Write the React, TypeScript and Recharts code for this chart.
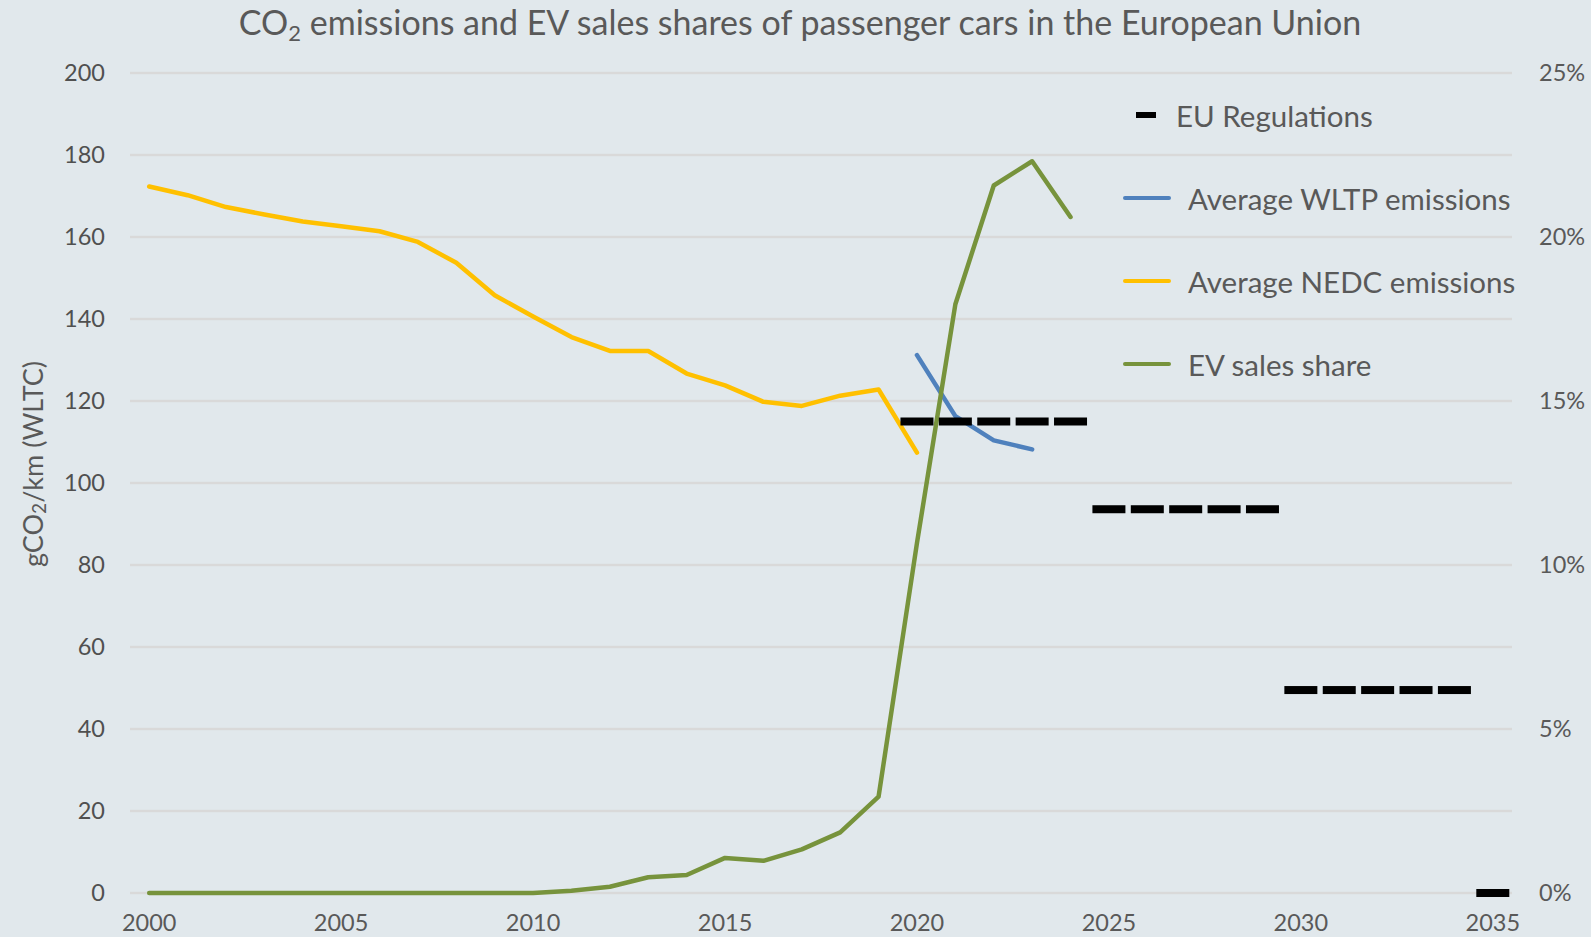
import React from 'react';
import {
  ComposedChart,
  Line,
  Scatter,
  XAxis,
  YAxis,
  CartesianGrid,
  Label,
} from 'recharts';

const years = [
  2000, 2001, 2002, 2003, 2004, 2005, 2006, 2007, 2008, 2009, 2010, 2011,
  2012, 2013, 2014, 2015, 2016, 2017, 2018, 2019, 2020, 2021, 2022, 2023,
  2024, 2025, 2026, 2027, 2028, 2029, 2030, 2031, 2032, 2033, 2034, 2035,
];

// Average NEDC emissions, 2000-2020 (gCO2/km)
const nedcValues = [
  172.3, 170.2, 167.3, 165.5, 163.8, 162.6, 161.4, 158.8, 153.7, 145.8, 140.6,
  135.6, 132.2, 132.2, 126.7, 123.8, 119.8, 118.8, 121.3, 122.8, 107.4,
];

// Average WLTP emissions, 2020-2023 (gCO2/km)
const wltpYears = [2020, 2021, 2022, 2023];
const wltpValues = [131.2, 116.3, 110.4, 108.2];

// EV sales share, 2000-2024 (%)
const evValues = [
  0, 0, 0, 0, 0, 0, 0, 0, 0, 0, 0, 0.07, 0.19, 0.48, 0.55, 1.07, 0.98, 1.33,
  1.85, 2.94, 10.67, 17.95, 21.57, 22.31, 20.61,
];

// EU Regulations targets (gCO2/km)
const regYears = [
  2020, 2021, 2022, 2023, 2024, 2025, 2026, 2027, 2028, 2029, 2030, 2031,
  2032, 2033, 2034, 2035,
];
const regValues = [
  115, 115, 115, 115, 115, 93.6, 93.6, 93.6, 93.6, 93.6, 49.5, 49.5, 49.5,
  49.5, 49.5, 0,
];

const leftTicks = [0, 20, 40, 60, 80, 100, 120, 140, 160, 180, 200];
const rightTicks = [0, 5, 10, 15, 20, 25];
const xTicks = [2000, 2005, 2010, 2015, 2020, 2025, 2030, 2035];

const legendItems = [
  { name: 'EU Regulations', color: '#000000', kind: 'dash' },
  { name: 'Average WLTP emissions', color: '#4F81BD', kind: 'line' },
  { name: 'Average NEDC emissions', color: '#FFC000', kind: 'line' },
  { name: 'EV sales share', color: '#77933C', kind: 'line' },
];

const rows = years.map((year, i) => {
  const wi = wltpYears.indexOf(year);
  return {
    year,
    nedc: i < nedcValues.length ? nedcValues[i] : undefined,
    wltp: wi >= 0 ? wltpValues[wi] : undefined,
    ev: i < evValues.length ? evValues[i] : undefined,
  };
});

const regRows = regYears.map((year, i) => ({ year, reg: regValues[i] }));

const FONT = 'Lato, "Open Sans", sans-serif';
const TEXT = '#595959';
const BG = '#E1E8EC';

const DashShape = (props: any) => {
  const { cx, cy } = props;
  if (cx == null || cy == null) return null;
  return <rect x={cx - 16.5} y={cy - 4} width={33} height={8} fill="#000" />;
};

const ChartLegend = () => (
  <div
    style={{
      position: 'absolute',
      left: 1123,
      top: 73.5,
      fontFamily: FONT,
      color: TEXT,
    }}
  >
    {legendItems.map((it) => (
      <div
        key={it.name}
        style={{ display: 'flex', alignItems: 'center', height: 83 }}
      >
        {it.kind === 'dash' ? (
          <div
            style={{
              marginLeft: 13,
              width: 20,
              height: 6,
              background: it.color,
              marginRight: 20,
            }}
          />
        ) : (
          <div
            style={{
              width: 48,
              height: 4.5,
              borderRadius: 2,
              background: it.color,
              marginRight: 17,
            }}
          />
        )}
        <span style={{ fontSize: 29.5, whiteSpace: 'nowrap' }}>{it.name}</span>
      </div>
    ))}
  </div>
);

const YTitle = () => (
  <text
    transform="translate(32,464) rotate(-90)"
    textAnchor="middle"
    dominantBaseline="central"
    fill={TEXT}
    fontFamily={FONT}
    fontSize={27}
  >
    gCO
    <tspan dy={6} fontSize={19}>
      2
    </tspan>
    <tspan dy={-6}>/km (WLTC)</tspan>
  </text>
);

export default function App() {
  const tickStyle = { fontFamily: FONT, fontSize: 23.5, fill: TEXT };
  return (
    <div
      style={{
        position: 'absolute',
        left: 0,
        top: 0,
        width: 1591,
        height: 937,
        background: BG,
        overflow: 'hidden',
      }}
    >
      <div
        style={{
          position: 'absolute',
          left: 0,
          top: 2,
          width: 1600,
          textAlign: 'center',
          fontFamily: FONT,
          fontSize: 34,
          color: TEXT,
          lineHeight: '40px',
          whiteSpace: 'nowrap',
        }}
      >
        CO<sub style={{ fontSize: 22, verticalAlign: '-6px', lineHeight: 0 }}>2</sub>{' '}
        emissions and EV sales shares of passenger cars in the European Union
      </div>
      <ComposedChart
        width={1591}
        height={937}
        data={rows}
        margin={{ top: 73, right: 0, bottom: 0, left: 0 }}
      >
        <CartesianGrid
          vertical={false}
          stroke="#D9D9D9"
          strokeWidth={2.5}
          yAxisId="left"
        />
        <XAxis
          dataKey="year"
          type="number"
          domain={[1999.5, 2035.5]}
          ticks={xTicks}
          interval={0}
          axisLine={false}
          tickLine={false}
          tickMargin={15}
          height={44}
          tick={tickStyle}
          allowDataOverflow
        />
        <YAxis
          yAxisId="left"
          orientation="left"
          domain={[0, 200]}
          ticks={leftTicks}
          interval={0}
          width={130}
          axisLine={false}
          tickLine={false}
          tickMargin={19}
          tick={{ ...tickStyle, fill: '#505050' }}
        >
          <Label content={<YTitle />} />
        </YAxis>
        <YAxis
          yAxisId="right"
          orientation="right"
          domain={[0, 25]}
          ticks={rightTicks}
          interval={0}
          width={79}
          axisLine={false}
          tickLine={false}
          tickMargin={21}
          tick={tickStyle}
          tickFormatter={(v: number) => `${v}%`}
        />
        <Line
          yAxisId="left"
          dataKey="nedc"
          stroke="#FFC000"
          strokeWidth={4.5}
          dot={false}
          strokeLinecap="round"
          strokeLinejoin="round"
          isAnimationActive={false}
        />
        <Line
          yAxisId="left"
          dataKey="wltp"
          stroke="#4F81BD"
          strokeWidth={4.5}
          dot={false}
          strokeLinecap="round"
          strokeLinejoin="round"
          isAnimationActive={false}
        />
        <Line
          yAxisId="right"
          dataKey="ev"
          stroke="#77933C"
          strokeWidth={4.5}
          dot={false}
          strokeLinecap="round"
          strokeLinejoin="round"
          isAnimationActive={false}
        />
        <Scatter
          yAxisId="left"
          data={regRows}
          dataKey="reg"
          shape={<DashShape />}
          isAnimationActive={false}
        />
      </ComposedChart>
      <ChartLegend />
    </div>
  );
}
